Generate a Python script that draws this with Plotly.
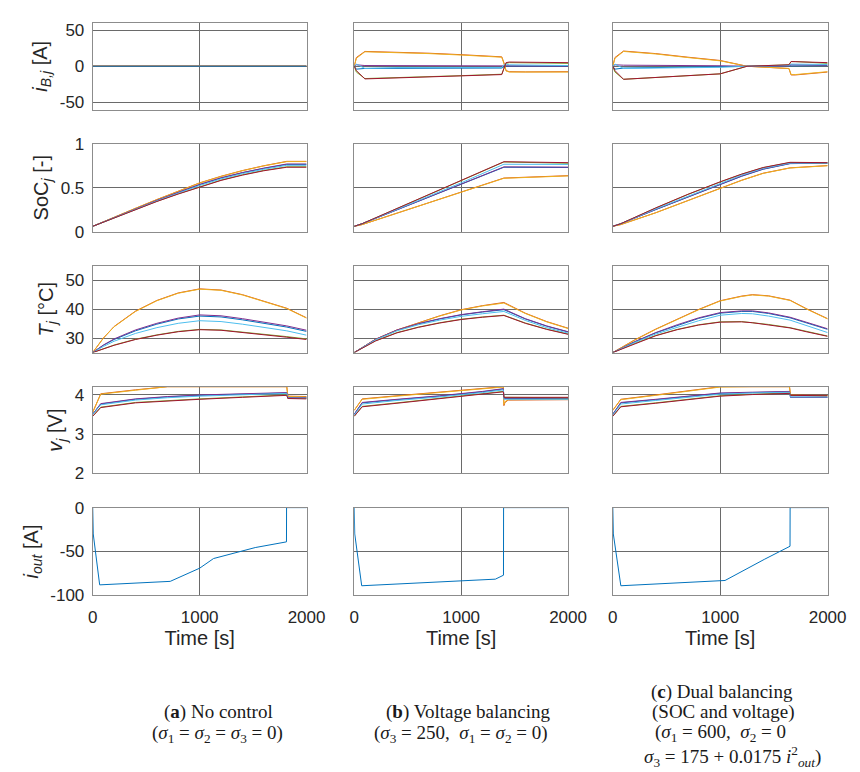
import plotly.graph_objects as go

W, H = 860, 772
COLORS = ["#0072BD", "#D95319", "#EDB120", "#7E2F8E", "#77AC30", "#4DBEEE", "#A2142F"]

# ---------------- Scenario (a): no control ----------------
t_iB_a = [0, 2000]
iB_a = [[0, 0], [0, 0], [0, 0], [0, 0], [0, 0], [0, 0], [0, 0]]

t_soc_a = [0, 200, 400, 600, 800, 1000, 1200, 1400, 1600, 1815, 2000]
soc_a = [
    [0.06, 0.16, 0.26, 0.355, 0.445, 0.535, 0.61, 0.67, 0.72, 0.765, 0.765],
    [0.06, 0.165, 0.265, 0.365, 0.46, 0.555, 0.63, 0.695, 0.75, 0.80, 0.80],
    [0.06, 0.165, 0.265, 0.364, 0.459, 0.553, 0.628, 0.693, 0.748, 0.797, 0.797],
    [0.06, 0.16, 0.26, 0.357, 0.448, 0.538, 0.613, 0.673, 0.723, 0.77, 0.77],
    [0.06, 0.155, 0.255, 0.345, 0.43, 0.512, 0.587, 0.647, 0.697, 0.738, 0.738],
    [0.06, 0.158, 0.258, 0.35, 0.438, 0.525, 0.6, 0.66, 0.71, 0.755, 0.755],
    [0.06, 0.155, 0.253, 0.343, 0.428, 0.508, 0.583, 0.643, 0.693, 0.733, 0.733],
]

t_T_a = [0, 100, 200, 400, 600, 800, 1000, 1200, 1400, 1600, 1815, 2000]
T_a = [
    [25, 27.5, 29.5, 32.5, 34.8, 36.6, 37.6, 37.3, 36.3, 35.1, 33.8, 32.3],
    [25, 30, 34, 39.3, 43, 45.6, 47, 46.6, 45, 42.8, 40.3, 37],
    [25, 30, 33.9, 39.2, 42.9, 45.5, 46.9, 46.5, 44.9, 42.7, 40.2, 36.9],
    [25, 27.6, 29.7, 32.8, 35.1, 36.9, 38, 37.7, 36.7, 35.5, 34.2, 32.7],
    [25, 26.4, 27.6, 29.6, 31.1, 32.3, 33, 32.8, 32.1, 31.3, 30.5, 29.7],
    [25, 27.1, 28.9, 31.6, 33.6, 35.1, 36, 35.7, 34.8, 33.7, 32.5, 31],
    [25, 26.3, 27.5, 29.5, 31, 32.2, 32.9, 32.7, 32, 31.2, 30.3, 29.5],
]

t_v_a = [0, 75, 400, 700, 1000, 1400, 1815, 1825, 2000]
v_a = [
    [3.5, 3.76, 3.88, 3.94, 3.98, 4.01, 4.04, 3.92, 3.92],
    [3.55, 4.02, 4.12, 4.2, 4.2, 4.2, 4.2, 3.96, 3.95],
    [3.55, 4.01, 4.11, 4.2, 4.2, 4.2, 4.2, 3.95, 3.94],
    [3.5, 3.77, 3.89, 3.95, 3.99, 4.02, 4.05, 3.92, 3.92],
    [3.45, 3.68, 3.8, 3.85, 3.89, 3.94, 3.99, 3.9, 3.9],
    [3.49, 3.74, 3.86, 3.92, 3.96, 4.0, 4.03, 3.91, 3.91],
    [3.45, 3.67, 3.79, 3.84, 3.88, 3.93, 3.98, 3.9, 3.89],
]

t_iout_a = [0, 5, 65, 725, 1000, 1130, 1520, 1812, 1813, 2000]
iout_a = [0, -30, -88, -84, -69, -58, -45.5, -39, 0, 0]

# ---------------- Scenario (b): voltage balancing ----------------
t_iB_b = [0, 20, 100, 400, 700, 1000, 1380, 1400, 1420, 1450, 1600, 2000]
iB_b = [
    [0, -4, -3, -3, -2.8, -2.6, -2.5, -1, 0, 0.2, 0.2, 0.2],
    [0, 12, 20.5, 19.5, 18, 16, 13, 5, -6, -7.5, -7.8, -7.5],
    [0, 11, 20, 19, 17.5, 15.5, 12.5, 4, -6.5, -8, -8.2, -8],
    [0, 2, 1, 0.8, 0.7, 0.5, 0.5, 0.5, 0.5, 0.5, 0.4, 0.3],
    [0, -8, -17, -16, -14.5, -13, -11, -4, 4, 5, 4.5, 4],
    [0, 3, -3, -1.8, -1.8, -1.8, -1.7, 2, 3, 2, 1.5, 1],
    [0, -6, -17.5, -16.3, -14.8, -13.2, -11.5, -3, 5, 5.8, 5.5, 5],
]

t_soc_b = [0, 75, 1000, 1400, 2000]
soc_b = [
    [0.06, 0.09, 0.539, 0.733, 0.73],
    [0.06, 0.08, 0.45, 0.61, 0.637],
    [0.06, 0.08, 0.448, 0.607, 0.634],
    [0.06, 0.09, 0.541, 0.737, 0.734],
    [0.06, 0.09, 0.58, 0.793, 0.778],
    [0.06, 0.09, 0.555, 0.767, 0.765],
    [0.06, 0.09, 0.583, 0.796, 0.785],
]

t_T_b = [0, 200, 400, 600, 800, 1000, 1200, 1400, 1600, 1800, 2000]
T_b = [
    [25, 29.5, 32.7, 34.9, 36.6, 38, 39, 39.8, 36.6, 34.1, 32.1],
    [25, 29.6, 32.8, 35.3, 37.7, 39.8, 41.2, 42.3, 38.6, 35.7, 33.4],
    [25, 29.5, 32.7, 35.2, 37.6, 39.7, 41.1, 42.1, 38.5, 35.6, 33.3],
    [25, 29.6, 32.8, 35, 36.7, 38.1, 39.1, 40, 36.7, 34.2, 32.2],
    [25, 29.1, 31.9, 33.8, 35.3, 36.5, 37.3, 37.9, 35.2, 33.1, 31.4],
    [25, 29.4, 32.5, 34.6, 36.2, 37.5, 38.4, 39.2, 36.1, 33.6, 31.7],
    [25, 29, 31.8, 33.7, 35.2, 36.4, 37.2, 37.8, 35.1, 33, 31.3],
]

t_v_b = [0, 75, 400, 800, 1200, 1395, 1400, 1410, 1440, 2000]
v_b = [
    [3.5, 3.79, 3.87, 3.96, 4.07, 4.14, 3.9, 3.9, 3.9, 3.9],
    [3.6, 3.89, 3.97, 4.06, 4.155, 4.2, 3.72, 3.8, 3.86, 3.87],
    [3.6, 3.88, 3.96, 4.05, 4.145, 4.19, 3.75, 3.82, 3.87, 3.88],
    [3.5, 3.8, 3.88, 3.97, 4.08, 4.15, 3.9, 3.91, 3.91, 3.91],
    [3.45, 3.7, 3.79, 3.91, 4.02, 4.08, 3.93, 3.93, 3.93, 3.92],
    [3.48, 3.76, 3.85, 3.94, 4.05, 4.12, 3.88, 3.88, 3.88, 3.88],
    [3.45, 3.69, 3.78, 3.9, 4.01, 4.07, 3.93, 3.93, 3.93, 3.93],
]

t_iout_b = [0, 5, 70, 1320, 1396, 1397, 2000]
iout_b = [0, -30, -89, -81.5, -77, 0, 0]

# ---------------- Scenario (c): dual balancing ----------------
t_iB_c = [0, 20, 100, 400, 700, 1000, 1250, 1640, 1660, 1700, 2000]
iB_c = [
    [0, -4, -2.5, -1.5, -1, -0.5, 0, 0.5, 1, 1, 0.8],
    [0, 12, 21, 17.5, 12.5, 8, 0, -3.2, -12, -12, -8],
    [0, 11, 20.5, 17, 12, 7.5, 0, -3, -11.5, -11.5, -7.5],
    [0, 2, 1.5, 1.5, 1, 0.7, 0, 0.5, 2, 2, 1.5],
    [0, -8, -18, -15.5, -13, -10.5, 0, 2, 6.5, 6.5, 4],
    [0, 3, -3, -2.5, -2, -1.5, 0, 1, 3, 3, 2.5],
    [0, -6, -18, -15.5, -13, -10.5, 0, 2, 6.5, 6.3, 5],
]

t_soc_c = [0, 75, 400, 700, 1000, 1200, 1400, 1650, 2000]
soc_c = [
    [0.06, 0.09, 0.25, 0.395, 0.537, 0.63, 0.71, 0.774, 0.78],
    [0.06, 0.08, 0.215, 0.35, 0.493, 0.585, 0.665, 0.726, 0.752],
    [0.06, 0.08, 0.214, 0.349, 0.491, 0.583, 0.663, 0.724, 0.75],
    [0.06, 0.09, 0.252, 0.398, 0.54, 0.633, 0.713, 0.776, 0.781],
    [0.06, 0.09, 0.268, 0.423, 0.565, 0.653, 0.728, 0.787, 0.783],
    [0.06, 0.09, 0.258, 0.405, 0.55, 0.643, 0.72, 0.78, 0.782],
    [0.06, 0.09, 0.27, 0.425, 0.567, 0.655, 0.73, 0.789, 0.785],
]

t_T_c = [0, 200, 400, 600, 800, 1000, 1200, 1300, 1450, 1650, 1800, 2000]
T_c = [
    [25, 28.6, 31.8, 34.4, 36.8, 38.6, 39.2, 39.2, 38.5, 37, 35.3, 33],
    [25, 29.3, 33.1, 36.5, 39.9, 42.9, 44.5, 45, 44.6, 43.1, 40.2, 36.7],
    [25, 29.2, 33, 36.4, 39.8, 42.8, 44.4, 44.9, 44.5, 43, 40.1, 36.6],
    [25, 28.7, 31.9, 34.6, 37, 38.8, 39.4, 39.4, 38.7, 37.2, 35.5, 33.2],
    [25, 28.1, 30.9, 33, 34.6, 35.6, 35.7, 35.4, 34.7, 33.6, 32.3, 30.7],
    [25, 28.4, 31.4, 33.8, 36, 37.9, 38.5, 38.4, 37.6, 36.2, 34.3, 31.9],
    [25, 28, 30.8, 32.9, 34.5, 35.5, 35.6, 35.3, 34.6, 33.5, 32.2, 30.6],
]

t_v_c = [0, 75, 400, 700, 1000, 1300, 1645, 1655, 2000]
v_c = [
    [3.5, 3.79, 3.87, 3.95, 4.03, 4.05, 4.07, 3.93, 3.93],
    [3.6, 3.88, 3.99, 4.09, 4.2, 4.2, 4.2, 3.99, 3.98],
    [3.6, 3.87, 3.98, 4.08, 4.19, 4.2, 4.2, 3.98, 3.97],
    [3.5, 3.8, 3.88, 3.96, 4.04, 4.06, 4.08, 3.93, 3.93],
    [3.45, 3.7, 3.79, 3.88, 3.97, 4.01, 4.04, 3.98, 3.97],
    [3.48, 3.76, 3.85, 3.93, 4.01, 4.04, 4.06, 3.94, 3.94],
    [3.45, 3.69, 3.78, 3.87, 3.96, 4.0, 4.03, 3.98, 3.97],
]

t_iout_c = [0, 5, 75, 1045, 1410, 1650, 1651, 2000]
iout_c = [0, -30, -89, -83, -59, -44, 0, 0]

# ---------------- axis settings ----------------
X_RANGE = [0, 2000]
X_TICKS = [0, 1000, 2000]
X_TICKTEXT = ["0", "1000", "2000"]
X_TITLE = "Time [s]"

Y_RANGES = [[-60, 60], [0, 1], [25, 55], [2, 4.2], [-100, 0]]
Y_TICKS = [[-50, 0, 50], [0, 0.5, 1], [30, 40, 50], [2, 3, 4], [-100, -50, 0]]
Y_TICKTEXT = [["-50", "0", "50"], ["0", "0.5", "1"], ["30", "40", "50"], ["2", "3", "4"], ["-100", "-50", "0"]]
Y_TITLES = [
    "<i>i</i><sub><i>B,j</i></sub> [A]",
    "SoC<sub><i>j</i></sub> [-]",
    "<i>T</i><sub><i>j</i></sub> [°C]",
    "<i>v</i><sub><i>j</i></sub> [V]",
    "<i>i</i><sub><i>out</i></sub> [A]",
]

CAPTIONS = [
    [(211, 713, "(<b>a</b>) No control"),
     (210, 735, "(<i>σ</i><sub>1</sub> = <i>σ</i><sub>2</sub> = <i>σ</i><sub>3</sub> = 0)")],
    [(468, 713, "(<b>b</b>) Voltage balancing"),
     (461, 735, "(<i>σ</i><sub>3</sub> = 250,  <i>σ</i><sub>1</sub> = <i>σ</i><sub>2</sub> = 0)")],
    [(729, 692, "(<b>c</b>) Dual balancing"),
     (730, 713, "(SOC and voltage)"),
     (728, 734, "(<i>σ</i><sub>1</sub> = 600,  <i>σ</i><sub>2</sub> = 0"),
     (740, 758, "<i>σ</i><sub>3</sub> = 175 + 0.0175 <i>i</i><sup>2</sup><sub><i>out</i></sub>)")],
]

# panel pixel boxes
COL_PX = [(82, 302), (351, 571), (617, 838)]
ROW_PX = [(6, 95), (130, 220), (255, 344), (379, 468), (503, 593)]

SANS = "Liberation Sans, Arial, Helvetica, sans-serif"
SERIF = "Liberation Serif, Times New Roman, serif"
GRID = "#6a6a6a"
FRAME = "#8c8c8c"

scenarios = [
    dict(iB=(t_iB_a, iB_a), soc=(t_soc_a, soc_a), T=(t_T_a, T_a), v=(t_v_a, v_a), iout=(t_iout_a, iout_a)),
    dict(iB=(t_iB_b, iB_b), soc=(t_soc_b, soc_b), T=(t_T_b, T_b), v=(t_v_b, v_b), iout=(t_iout_b, iout_b)),
    dict(iB=(t_iB_c, iB_c), soc=(t_soc_c, soc_c), T=(t_T_c, T_c), v=(t_v_c, v_c), iout=(t_iout_c, iout_c)),
]

fig = go.Figure()
layout = {}

for r in range(5):
    for c in range(3):
        n = r * 3 + c + 1
        xa = "x" if n == 1 else f"x{n}"
        ya = "y" if n == 1 else f"y{n}"
        xkey = "xaxis" if n == 1 else f"xaxis{n}"
        ykey = "yaxis" if n == 1 else f"yaxis{n}"
        x0, x1 = COL_PX[c]
        y0, y1 = ROW_PX[r]
        xax = dict(
            domain=[x0 / W, x1 / W], anchor=ya, range=X_RANGE,
            tickvals=X_TICKS, showticklabels=(r == 4),
            showgrid=True, gridcolor=GRID, gridwidth=1, zeroline=False,
            showline=True, mirror=True, linecolor=FRAME, linewidth=1,
            ticks="", ticklabelstandoff=6,
            tickfont=dict(family=SANS, size=17, color="#262626"),
        )
        if r == 4:
            xax["ticktext"] = X_TICKTEXT
            xax["title"] = dict(text=X_TITLE, font=dict(family=SANS, size=20, color="#262626"), standoff=4)
        layout[xkey] = xax
        yax = dict(
            domain=[1 - y1 / H, 1 - y0 / H], anchor=xa, range=Y_RANGES[r],
            tickvals=Y_TICKS[r], showticklabels=(c == 0),
            showgrid=True, gridcolor=GRID, gridwidth=1, zeroline=False,
            showline=True, mirror=True, linecolor=FRAME, linewidth=1,
            ticks="", ticklabelstandoff=4,
            tickfont=dict(family=SANS, size=17, color="#262626"),
        )
        if c == 0:
            yax["ticktext"] = Y_TICKTEXT[r]
            yax["title"] = dict(text=Y_TITLES[r], font=dict(family=SANS, size=20, color="#262626"), standoff=6)
        layout[ykey] = yax
        sc = scenarios[c]
        if r < 4:
            key = ["iB", "soc", "T", "v"][r]
            tt, series = sc[key]
            order = list(range(7))
            if c == 0 and r == 0:
                order = order[::-1]
            for k in order:
                fig.add_trace(go.Scatter(
                    x=tt, y=series[k], xaxis=xa, yaxis=ya, mode="lines",
                    line=dict(color=COLORS[k], width=1), showlegend=False, hoverinfo="skip"))
        else:
            tt, vals = sc["iout"]
            fig.add_trace(go.Scatter(
                x=tt, y=vals, xaxis=xa, yaxis=ya, mode="lines",
                line=dict(color=COLORS[0], width=1), showlegend=False, hoverinfo="skip"))

annotations = []
for col in CAPTIONS:
    for (px, py, txt) in col:
        annotations.append(dict(
            x=px / W, y=1 - py / H, xref="paper", yref="paper",
            xanchor="center", yanchor="middle", showarrow=False,
            text=txt, font=dict(family=SERIF, size=19, color="#1a1a1a")))

fig.update_layout(
    width=W, height=H,
    margin=dict(l=0, r=0, t=0, b=0),
    paper_bgcolor="white", plot_bgcolor="white",
    annotations=annotations,
    **layout,
)

fig.write_html("out.html")
